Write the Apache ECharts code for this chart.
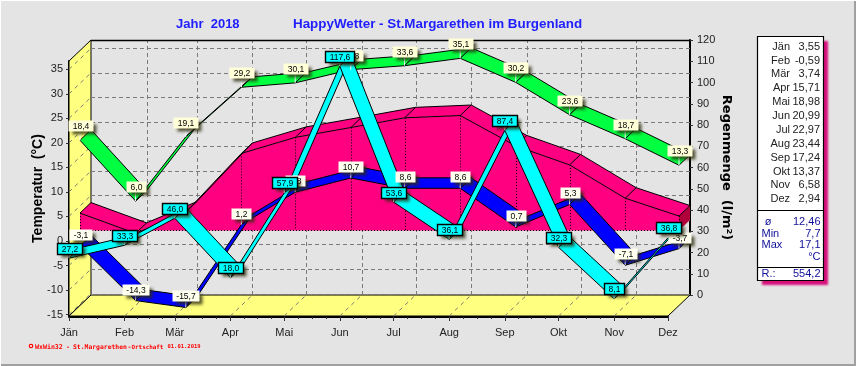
<!DOCTYPE html>
<html><head><meta charset="utf-8">
<style>html,body{margin:0;padding:0;background:#e4e4e4}#c{width:856px;height:366px}</style>
<script src="https://cdn.jsdelivr.net/npm/echarts@6/dist/echarts.min.js"></script>
</head><body><div id="c"></div>
<script>
const months = ['Jän','Feb','Mär','Apr','Mai','Jun','Jul','Aug','Sep','Okt','Nov','Dez'];
const monthDays = [0,31,59,90,120,151,181,212,243,273,304,334];
const tempMax  = [18.4,6.0,19.1,29.2,30.1,32.8,33.6,35.1,30.2,23.6,18.7,13.3];
const tempMean = [3.55,-0.59,3.74,15.71,18.98,20.99,22.97,23.44,17.24,13.37,6.58,2.94];
const tempMin  = [-3.1,-14.3,-15.7,1.2,7.8,10.7,8.6,8.6,0.7,5.3,-7.1,-3.7];
const rain     = [27.2,33.3,46.0,18.0,57.9,117.6,53.6,36.1,87.4,32.3,8.1,36.8];
const tempTicks = [-15,-10,-5,0,5,10,15,20,25,30,35];
const rainTicks = [0,10,20,30,40,50,60,70,80,90,100,110,120];
const statRows = [['ø','12,46'],['Min','7,7'],['Max','17,1'],['','°C']];
const rainTotal = '554,2';
const footerParts = [['WxWin32',35,6.6],['-',66,6.4],['St.Margarethen',73,6.4],['-',127.5,6.4],['Ortschaft',131.5,5.9],['01.01.2019',167.5,5.5]];

const FONT='"Liberation Sans",Arial,sans-serif';
const DX=22,DY=21;
const comma=(v,d)=>v.toFixed(d).replace('.',',');
const seg=a=>a.slice(0,-1).map((v,i)=>[monthDays[i],v,monthDays[i+1],a[i+1]]);
const minorDays=[];
monthDays.forEach((d,i)=>{if(i<monthDays.length-1){const n=monthDays[i+1];for(let k=1;k<4;k++)minorDays.push(d+(n-d)*k/4);}});
const off=(p,f)=>[p[0]+DX*f,p[1]-DY*f];
const measure=document.createElement('canvas').getContext('2d');
const LABEL_FONT='8.5px '+FONT;

function ribbon(color,fa,fb){return (params,api)=>{
  const a=api.coord([api.value(0),api.value(1)]),b=api.coord([api.value(2),api.value(3)]);
  return {type:'polygon',shape:{points:[off(a,fa),off(b,fa),off(b,fb),off(a,fb)]},
    style:{fill:color,stroke:'#000',lineWidth:1}};
};}
function labelItem(fill,dy,f,border){return (params,api)=>{
  const p=off(api.coord([api.value(0),api.value(1)]),f);
  const cy=p[1]+dy, txt=api.value(2)+'';
  measure.font=LABEL_FONT;
  const w=Math.round(measure.measureText(txt).width+8), h=11;
  const x=Math.round(p[0]-w/2)+.5, y=Math.round(cy-h/2)+.5;
  const ch=[
    {type:'line',shape:{x1:p[0],y1:y+h,x2:p[0],y2:p[1]},style:{stroke:'#fff',lineWidth:1}},
    {type:'rect',shape:{x:x,y:y,width:w,height:h},style:{fill:fill,
      shadowColor:'rgba(45,45,15,0.8)',shadowBlur:3,shadowOffsetX:3,shadowOffsetY:3}}
  ];
  if(border)ch.push({type:'rect',shape:{x:x,y:y,width:w,height:h},style:{fill:null,stroke:border,lineWidth:1.4}});
  ch.push({type:'text',style:{x:x+w/2,y:y+h/2+.5,text:txt,align:'center',verticalAlign:'middle',font:LABEL_FONT,fill:'#000'}});
  return {type:'group',children:ch};
};}

const walls=(params,api)=>{
  const xa=monthDays[0],xb=monthDays[monthDays.length-1];
  const tl=api.coord([xa,36.7]),bl=api.coord([xa,-15.3]),br=api.coord([xb,-15.3]);
  const ch=[];
  const Y='#ffff80';
  ch.push({type:'polygon',shape:{points:[tl,off(tl,1),off(bl,1),bl]},style:{fill:Y,stroke:'#000',lineWidth:1}});
  ch.push({type:'polygon',shape:{points:[bl,off(bl,1),off(br,1),br]},style:{fill:Y,stroke:'#000',lineWidth:1}});
  const dash={stroke:'#7a7a7a',lineWidth:1,lineDash:[4,3]};
  tempTicks.forEach(t=>{
    const a=api.coord([xa,t]),b=api.coord([xb,t]),a1=off(a,1),b1=off(b,1);
    ch.push({type:'line',shape:{x1:a[0],y1:a[1],x2:a1[0],y2:a1[1]},style:{stroke:'#7a7a7a',lineWidth:1,lineDash:[4,4]}});
    ch.push({type:'line',shape:{x1:Math.round(a1[0]),y1:Math.round(a1[1])+.5,x2:Math.round(b1[0]),y2:Math.round(b1[1])+.5},style:dash});
  });
  monthDays.slice(1,-1).forEach(d=>{
    const a=api.coord([d,-15.3]),t=api.coord([d,36.7]),a1=off(a,1),t1=off(t,1);
    ch.push({type:'line',shape:{x1:a[0],y1:a[1],x2:a1[0],y2:a1[1]},style:{stroke:'#7a7a7a',lineWidth:1,lineDash:[4,4]}});
    ch.push({type:'line',shape:{x1:Math.round(a1[0])+.5,y1:a1[1],x2:Math.round(t1[0])+.5,y2:t1[1]},style:dash});
  });
  const tl1=off(tl,1),tr1=off(api.coord([xb,36.7]),1);
  ch.push({type:'line',shape:{x1:tl1[0],y1:tl1[1]+.5,x2:tr1[0],y2:tr1[1]+.5},style:{stroke:'#000',lineWidth:1.5}});
  return {type:'group',children:ch};
};

const pinkBody=(params,api)=>{
  const P='#ff0080',ch=[];
  const pts=monthDays.map((d,i)=>api.coord([d,tempMean[i]]));
  const base=monthDays.map(d=>off(api.coord([d,0]),.5));
  const front=pts.map(p=>off(p,.5)),rear=pts.map(p=>off(p,1));
  const n=pts.length-1;
  ch.push({type:'polygon',shape:{points:front.concat(base.slice().reverse())},style:{fill:P}});
  ch.push({type:'polygon',shape:{points:front.concat(rear.slice().reverse())},style:{fill:P}});
  ch.push({type:'polygon',shape:{points:[front[n],rear[n],off(api.coord([monthDays[n],0]),1),base[n]]},style:{fill:'#b0003c'}});
  ch.push({type:'polyline',shape:{points:rear},style:{stroke:'#000',lineWidth:1,fill:null}});
  ch.push({type:'polyline',shape:{points:front},style:{stroke:'#000',lineWidth:1,fill:null}});
  front.forEach((p,i)=>{
    ch.push({type:'line',shape:{x1:p[0],y1:p[1],x2:rear[i][0],y2:rear[i][1]},style:{stroke:'#000',lineWidth:1}});
    ch.push({type:'line',shape:{x1:Math.round(p[0])+.5,y1:p[1],x2:Math.round(p[0])+.5,y2:base[i][1]},style:{stroke:'#000',lineWidth:1,lineDash:[1,2]}});
  });
  ch.push({type:'line',shape:{x1:base[0][0],y1:Math.round(base[0][1])+.5,x2:base[n][0],y2:Math.round(base[n][1])+.5},style:{stroke:'#000',lineWidth:1,lineDash:[1,2]}});
  return {type:'group',children:ch};
};

const tempLabels=a=>a.map((v,i)=>[monthDays[i],v,comma(v,1)]);

const g=[];
const box={x:758,y:37,w:66,h:244};
g.push({type:'rect',shape:{x:box.x-.5,y:box.y-.5,width:box.w,height:box.h},
  style:{fill:'#fff',shadowColor:'#d8107c',shadowBlur:2,shadowOffsetX:4,shadowOffsetY:4},z:1});
g.push({type:'rect',shape:{x:box.x-.5,y:box.y-.5,width:box.w,height:box.h},
  style:{fill:null,stroke:'#000',lineWidth:1.2},z:1});
months.forEach((m,i)=>{
  const y=46.7+i*13.87;
  g.push({type:'text',style:{x:790,y:y,text:m,align:'right',verticalAlign:'middle',font:'11px '+FONT,fill:'#222'},z:2});
  g.push({type:'text',style:{x:820,y:y,text:comma(tempMean[i],2),align:'right',verticalAlign:'middle',font:'11px '+FONT,fill:'#222'},z:2});
});
[210,267].forEach(y=>g.push({type:'line',shape:{x1:box.x,y1:y+.5,x2:box.x+box.w-1,y2:y+.5},style:{stroke:'#000',lineWidth:1},z:2}));
const NAVY='#10109a';
statRows.forEach((r,i)=>{
  const y=221.7+i*11.8;
  if(r[0])g.push({type:'text',style:{x:i===0?768:761.5,y:y,text:r[0],align:i===0?'center':'left',verticalAlign:'middle',font:'11px '+FONT,fill:NAVY},z:2});
  g.push({type:'text',style:{x:820.5,y:y,text:r[1],align:'right',verticalAlign:'middle',font:'11px '+FONT,fill:NAVY},z:2});
});
g.push({type:'text',style:{x:761.5,y:274,text:'R.:',align:'left',verticalAlign:'middle',font:'11px '+FONT,fill:NAVY},z:2});
g.push({type:'text',style:{x:820.5,y:274,text:rainTotal,align:'right',verticalAlign:'middle',font:'11px '+FONT,fill:NAVY},z:2});
g.push({type:'circle',shape:{cx:31,cy:346,r:1.7},style:{fill:'#fff',stroke:'#f00',lineWidth:1.2},z:2});
footerParts.forEach(p=>g.push({type:'text',style:{x:p[1],y:347,text:p[0],align:'left',verticalAlign:'middle',font:'bold '+p[2]+'px "DejaVu Sans Mono",monospace',fill:'#f00'},z:2}));
g.push({type:'rect',shape:{x:0,y:364,width:856,height:2},style:{fill:'#a0a0a0'},z:2});
g.push({type:'rect',shape:{x:854,y:0,width:2,height:366},style:{fill:'#a0a0a0'},z:2});
g.push({type:'rect',shape:{x:0,y:0,width:856,height:1},style:{fill:'#fff'},z:2});
g.push({type:'rect',shape:{x:0,y:0,width:1,height:366},style:{fill:'#fff'},z:2});

const option={
  animation:false,backgroundColor:'#e4e4e4',
  textStyle:{fontFamily:FONT},
  title:[
    {text:'Jahr  2018',left:176,top:18,padding:0,textStyle:{color:'#2020ff',fontSize:13,fontWeight:'bold',fontFamily:FONT}},
    {text:'HappyWetter - St.Margarethen im Burgenland',left:293,top:18,padding:0,textStyle:{color:'#2020ff',fontSize:13.4,fontWeight:'bold',fontFamily:FONT}}
  ],
  grid:[{left:69,top:61,width:599,height:255},{left:91,top:40,width:599,height:255}],
  xAxis:[
    {gridIndex:0,type:'value',min:0,max:334,offset:1,position:'bottom',
     axisLine:{onZero:false,lineStyle:{color:'#000',width:2}},
     axisTick:{customValues:monthDays,length:4,lineStyle:{color:'#333',width:1}},
     axisLabel:{customValues:monthDays,margin:10,color:'#222',fontSize:11,fontFamily:FONT,hideOverlap:false,
       formatter:v=>months[monthDays.indexOf(v)]},
     splitLine:{show:false}},
    {gridIndex:0,type:'value',min:0,max:334,offset:1,position:'bottom',
     axisLine:{show:false,onZero:false},
     axisTick:{customValues:minorDays,length:2,lineStyle:{color:'#333',width:1}},
     axisLabel:{show:false},splitLine:{show:false}},
    {gridIndex:1,type:'value',min:0,max:334,show:false,splitLine:{show:false}}
  ],
  yAxis:[
    {gridIndex:0,type:'value',min:-15.3,max:36.7,position:'left',
     name:'Temperatur  (°C)',nameLocation:'middle',nameGap:24,nameRotate:90,nameMoveOverlap:false,
     nameTextStyle:{color:'#000',fontSize:14,fontWeight:'bold',fontFamily:FONT},
     axisLine:{onZero:false,show:true,lineStyle:{color:'#000',width:2}},
     axisTick:{show:true,customValues:tempTicks,length:3,lineStyle:{color:'#333'}},
     axisLabel:{customValues:tempTicks,margin:6,color:'#222',fontSize:11,fontFamily:FONT},
     splitLine:{show:false}},
    {gridIndex:1,type:'value',min:0,max:120,interval:10,position:'right',
     name:'Regenmenge  (l/m²)',nameLocation:'middle',nameGap:30,nameRotate:-90,nameMoveOverlap:false,
     nameTextStyle:{color:'#000',fontSize:13,fontWeight:'bold',fontFamily:'"DejaVu Sans",sans-serif'},
     axisLine:{onZero:false,show:true,lineStyle:{color:'#000',width:2}},
     axisTick:{show:true,length:3,lineStyle:{color:'#333'}},
     axisLabel:{margin:7,color:'#222',fontSize:11,fontFamily:FONT},
     splitLine:{show:false}}
  ],
  graphic:g,
  series:[
    {type:'custom',name:'walls',xAxisIndex:0,yAxisIndex:0,z:1,renderItem:walls,data:[[0,0]],silent:true},
    {type:'custom',name:'Mittel',xAxisIndex:0,yAxisIndex:0,z:3,renderItem:pinkBody,data:[[0,0]],silent:true},
    {type:'custom',name:'Min',xAxisIndex:0,yAxisIndex:0,z:4,renderItem:ribbon('#0000ff',.5,1),data:seg(tempMin),silent:true},
    {type:'custom',name:'Max',xAxisIndex:0,yAxisIndex:0,z:5,renderItem:ribbon('#00ff40',.5,1),data:seg(tempMax),silent:true},
    {type:'custom',name:'Regen',xAxisIndex:2,yAxisIndex:1,z:6,renderItem:ribbon('#00ffff',-1,-.5),data:seg(rain),silent:true},
    {type:'custom',name:'MaxL',xAxisIndex:0,yAxisIndex:0,z:7,renderItem:labelItem('#ffffd8',-14.5,.5),data:tempLabels(tempMax),silent:true},
    {type:'custom',name:'MinL',xAxisIndex:0,yAxisIndex:0,z:8,renderItem:labelItem('#fffff0',-11.5,.5),data:tempLabels(tempMin),silent:true},
    {type:'custom',name:'RegenL',xAxisIndex:2,yAxisIndex:1,z:9,renderItem:labelItem('#00ffff',-10,-1,'#000'),data:tempLabels(rain),silent:true}
  ]
};
echarts.init(document.getElementById('c'),null,{renderer:'canvas'}).setOption(option);
</script></body></html>
